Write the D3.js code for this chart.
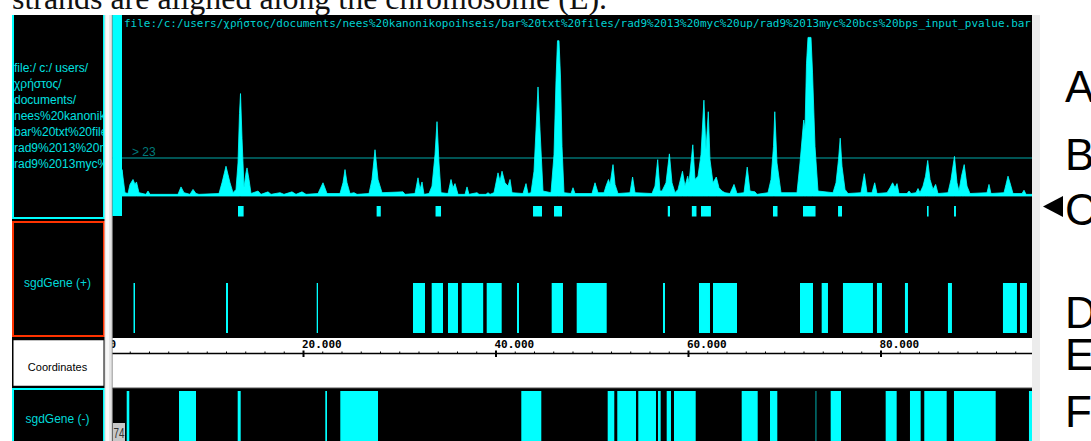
<!DOCTYPE html>
<html><head><meta charset="utf-8">
<script src="https://cdn.jsdelivr.net/npm/d3@7"></script>
<style>html,body{margin:0;padding:0;background:#fff;overflow:hidden}</style>
</head><body>
<svg id="c" width="1091" height="441" xmlns="http://www.w3.org/2000/svg"></svg>
<script>
// ---------- data ----------
const chromLength = 95741;
const caption = "strands are aligned along the chromosome (E).";
const filePath = "file:/c:/users/χρήστος/documents/nees%20kanonikopoihseis/bar%20txt%20files/rad9%2013%20myc%20up/rad9%2013myc%20bcs%20bps_input_pvalue.bar";
const fileLabelLines = ["file:/ c:/ users/","χρήστος/","documents/","nees%20kanonikopoihseis/","bar%20txt%20files/","rad9%2013%20myc%20up/","rad9%2013myc%20bcs%20bps_input_pvalue.bar"];
const trackLabels = ["sgdGene (+)","Coordinates","sgdGene (-)"];
const threshold = 23;
const thresholdLabel = "> 23";
const majorTicks = [0,20000,40000,60000,80000];
const tickLabels = ["0","20.000","40.000","60.000","80.000"];
const minorStep = 2000;
const panelLetters = ["A","B","C","D","E","F"];
const cornerLabel = "74";
const startBlock = [150, 1195];
// signal samples [position (bp), value]
const signalSamples = [
[1195,16],[1506,2],[1818,1.5],[2026,7],[2338,10],[2545,7],[2701,8.5],[2961,2],[3688,1],[3896,3],[4104,1],
[7013,1],[7325,5.5],[7636,2],[8260,1],[8572,4],[8883,1.5],[9194,1],[11273,1.5],[11584,8],[12000,18],[12416,8],
[12728,2],[13039,4],[13247,20],[13403,50],[13507,62],[13663,35],[13871,5],[14079,14],[14183,17],[14391,10],[14599,1.5],
[15325,3],[15637,1],[16364,2.5],[16676,1],[17611,2],[18027,1],[18857,2.5],[19273,1],[19897,2.5],[20312,1],
[21559,1.5],[22078,8],[22494,1.5],[23845,1.5],[24157,8],[24365,16],[24572,8],[24884,1.5],[25300,2],[25611,1],
[26858,1.5],[27170,10],[27482,28],[27793,10],[28209,2],[30390,2.5],[30598,1],[31637,1.5],[31949,11],[32157,4],
[32365,8.5],[32572,1],[33092,1.5],[33404,6],[33715,25],[33923,45],[34131,20],[34339,2],[35066,1.5],[35378,10],
[35586,5],[35793,7.5],[36105,1],[36832,1],[37040,5.5],[37248,1],[38079,2],[38287,1],[39014,1],[39222,2],[39430,1],
[39845,2],[40261,14],[40469,9],[40677,15],[40988,8],[41300,6],[41508,10],[41716,2],[42859,1.5],[43170,7.5],[43378,1.5],
[43690,2],[44001,15],[44209,40],[44417,66],[44625,40],[44936,3],[45768,2],[46079,25],[46287,70],[46442,94],[46598,94],
[46754,72],[46910,30],[47118,2],[47845,1.5],[48053,5],[48261,1.5],[50027,1.5],[50339,8],[50651,2],[51274,2],[51482,6],
[51740,10],[51898,7],[52209,19],[52417,7],[52728,1.5],[53975,2],[54245,11.5],[54494,2],[56260,1.5],[56572,6],[56852,22],
[57091,3],[57299,3],[57714,8],[58068,25.5],[58338,8],[58650,2],[58961,4],[59428,15],[59688,6],[59969,12],[60104,8],
[60499,31],[60727,10],[61039,12],[61351,25],[61652,58],[61870,28],[62109,51],[62286,22],[62597,8],[62940,11.5],
[63221,5],[63533,3],[63845,2],[64364,1.5],[64780,7],[65092,1.5],[65819,2],[66152,17.5],[66442,3],[66961,2.5],[67169,1],
[68312,2],[68624,10],[68883,30],[69018,51],[69247,20],[69663,2],[71325,2],[71637,20],[72021,46],[72156,40],[72312,80],
[72468,96],[72780,96],[72936,75],[73196,30],[73508,3],[75066,2],[75378,8],[75638,22],[75814,35],[76001,18],[76313,4],
[76625,1.5],[77975,2],[78318,13.5],[78599,2],[79118,2],[79399,8],[79638,1.5],[80677,2],[80989,5],[81259,8],[81508,5],
[81716,7.5],[81924,1.5],[82755,1.5],[82963,3],[83171,1.5],[83690,2],[83898,4.5],[84106,2],[84418,6],[84678,12],
[84906,21.5],[85145,10],[85457,4],[85727,7],[85976,1.5],[87015,2],[87327,10],[87687,24],[87947,8],[88155,3],[88415,12],
[88696,19],[88987,6],[89298,1.5],[91065,2],[91273,7],[91481,1.5],[92832,2],[93040,7],[93248,12],[93455,8],[93767,1.5],
[94702,1.5],[94910,3.5],[95118,1],[95741,1]
];
// significant regions (row of squares under the signal)
const sigRegions = [[13247,13830],[27650,28080],[33770,34340],[43900,44830],[46080,46910],[57900,58130],[60400,60880],[61350,62380],[68830,69300],[71950,73250],[75590,76000],[84830,85000],[87640,87840]];
const genesPlus = [[2390,2545],[12000,12208],[21423,21558],[31428,32675],[33371,34545],[35064,36103],[36488,38722],[39085,40643],[42233,42441],[45838,47012],[48436,51553],[57402,57610],[61142,62285],[62597,65091],[71637,72987],[73889,74543],[76100,79217],[79632,80151],[82541,82853],[87009,87424],[92723,94178],[94490,95217]];
const genesMinus = [[1683,1953],[7117,8883],[13215,13527],[22317,22494],[23875,27794],[42680,44758],[51656,52342],[52653,54596],[54835,56674],[56882,57162],[57786,58233],[58546,60800],[65579,67241],[68520,69278],[73260,73330],[74825,75896],[80538,81681],[83063,84174],[84549,86876],[87634,91967],[95426,95741]];

// ---------- drawing ----------
const svg = d3.select("#c");
const CY = "#00ffff";
const x = d3.scaleLinear().domain([0, chromLength]).range([110.5, 1032]);
const y = d3.scaleLinear().domain([0, 100]).range([196, 30.8]);

svg.append("rect").attr("width",1091).attr("height",441).attr("fill","#fff");

// caption (cut off at top)
svg.append("text").attr("x",12).attr("y",8.5)
  .attr("font-family","'Liberation Serif','Times New Roman',serif").attr("font-size",32)
  .attr("textLength",595).attr("lengthAdjust","spacingAndGlyphs").attr("fill","#111").text(caption);

// main black window
svg.append("rect").attr("x",12).attr("y",15).attr("width",1020).attr("height",426).attr("fill","#000");

const defs = svg.append("defs");
defs.append("clipPath").attr("id","lclip").append("rect").attr("x",14).attr("y",15).attr("width",89).attr("height",426);
defs.append("clipPath").attr("id","bclip").append("rect").attr("x",0).attr("y",15).attr("width",112).attr("height",426);
defs.append("clipPath").attr("id","dclip").append("rect").attr("x",112.5).attr("y",15).attr("width",919.5).attr("height",426);

// ---- left label column ----
const left = svg.append("g").attr("clip-path","url(#bclip)");
left.append("rect").attr("x",13).attr("y",5).attr("width",91).attr("height",213).attr("fill","#000").attr("stroke",CY).attr("stroke-width",2);
left.append("rect").attr("x",13).attr("y",222).attr("width",91).attr("height",114).attr("fill","#000").attr("stroke","#ff3300").attr("stroke-width",2);
left.append("rect").attr("x",12.75).attr("y",339.5).attr("width",91.5).attr("height",47).attr("fill","#fff").attr("stroke","#000").attr("stroke-width",1.5);
left.append("rect").attr("x",13).attr("y",389).attr("width",91).attr("height",60).attr("fill","#000").attr("stroke",CY).attr("stroke-width",2);

const lt = left.append("g").attr("clip-path","url(#lclip)");
lt.selectAll("text.fl").data(fileLabelLines).join("text").attr("class","fl")
  .attr("x",14).attr("y",(d,i)=>72+i*16)
  .attr("font-family","'Liberation Sans',Arial,sans-serif").attr("font-size",12)
  .attr("fill","#00e0e0").text(d=>d);

const labelY = [283, 367, 419];
const labelSize = [12, 11, 12];
left.selectAll("text.tl").data(trackLabels).join("text").attr("class","tl")
  .attr("x",57.5).attr("y",(d,i)=>labelY[i]+4).attr("text-anchor","middle")
  .attr("font-family","'Liberation Sans',Arial,sans-serif").attr("font-size",(d,i)=>labelSize[i])
  .attr("fill",(d,i)=>i===1?"#000":"#00d8d8").text(d=>d);

// splitter
svg.append("rect").attr("x",104.5).attr("y",15).attr("width",7.5).attr("height",426).attr("fill","#e6e6e6");
svg.append("rect").attr("x",106).attr("y",15).attr("width",3).attr("height",426).attr("fill","#f8f8f8");
svg.append("line").attr("x1",112.2).attr("x2",112.2).attr("y1",15).attr("y2",441).attr("stroke","#9a9a9a").attr("stroke-width",1);

// ---- data area ----
const data = svg.append("g").attr("clip-path","url(#dclip)");

data.append("text").attr("x",124).attr("y",27)
  .attr("font-family","'DejaVu Sans Mono',monospace").attr("font-size",11)
  .attr("textLength",907).attr("lengthAdjust","spacingAndGlyphs")
  .attr("fill","#00d0d0").text(filePath);

data.append("line").attr("x1",112).attr("x2",1032).attr("y1",y(threshold)).attr("y2",y(threshold))
  .attr("stroke","#007070").attr("stroke-width",1.3);
data.append("text").attr("x",132).attr("y",y(threshold)-2.5)
  .attr("font-family","'Liberation Sans',Arial,sans-serif").attr("font-size",12)
  .attr("fill","#007a7a").text(thresholdLabel);

const area = d3.area().x(d=>x(d[0])).y0(y(0)).y1(d=>y(d[1]));
data.append("path").datum(signalSamples).attr("d",area).attr("fill",CY).attr("stroke",CY).attr("stroke-width",0.8);

data.append("rect").attr("x",x(startBlock[0])).attr("width",x(startBlock[1])-x(startBlock[0]))
  .attr("y",15).attr("height",216-15).attr("fill",CY);

data.selectAll("rect.sr").data(sigRegions).join("rect").attr("class","sr")
  .attr("x",d=>x(d[0])).attr("width",d=>Math.max(1,x(d[1])-x(d[0])))
  .attr("y",206).attr("height",10.5).attr("fill",CY);

data.selectAll("rect.gp").data(genesPlus).join("rect").attr("class","gp")
  .attr("x",d=>x(d[0])).attr("width",d=>x(d[1])-x(d[0]))
  .attr("y",283).attr("height",50).attr("fill",CY);

data.append("rect").attr("x",112).attr("y",338).attr("width",920).attr("height",50).attr("fill","#fff");
data.append("line").attr("x1",112).attr("x2",1032).attr("y1",388).attr("y2",388).attr("stroke","#555").attr("stroke-width",1);

const axG = data.append("g").attr("transform","translate(0,353.5)");
const minorTicks = d3.range(0, chromLength, minorStep).filter(v=>majorTicks.indexOf(v)<0);
axG.append("g").call(d3.axisTop(x).tickValues(minorTicks).tickSize(2).tickSizeOuter(0).tickFormat(""))
  .call(g=>g.select(".domain").attr("stroke","#000").attr("stroke-width",1.6).attr("d","M112,0H1032"))
  .call(g=>g.selectAll(".tick line").attr("stroke","#000").attr("stroke-width",1));
axG.append("g").call(d3.axisBottom(x).tickValues(majorTicks).tickSize(3.5).tickSizeOuter(0).tickFormat(""))
  .call(g=>g.select(".domain").remove())
  .call(g=>g.selectAll(".tick line").attr("y1",-3).attr("stroke","#000").attr("stroke-width",2));
axG.selectAll("text.tk").data(majorTicks).join("text").attr("class","tk")
  .attr("x",d=>x(d)-1).attr("y",-5.2)
  .attr("font-family","'DejaVu Sans Mono',monospace").attr("font-weight","bold").attr("font-size",11)
  .attr("fill","#000").text((d,i)=>tickLabels[i]);

data.selectAll("rect.gm").data(genesMinus).join("rect").attr("class","gm")
  .attr("x",d=>x(d[0])).attr("width",d=>x(d[1])-x(d[0]))
  .attr("y",391).attr("height",55).attr("fill",CY);

// corner label
svg.append("rect").attr("x",113).attr("y",423).attr("width",12).attr("height",18).attr("fill","#c8c8c8");
svg.append("text").attr("x",113.5).attr("y",438)
  .attr("font-family","'Liberation Sans',Arial,sans-serif").attr("font-size",14)
  .attr("textLength",11).attr("lengthAdjust","spacingAndGlyphs").attr("fill","#333").text(cornerLabel);

// right gray strip
svg.append("rect").attr("x",1032).attr("y",15).attr("width",8).attr("height",426).attr("fill","#ececec");

const letterBase = [102, 170, 225, 328, 370, 427];
svg.selectAll("text.pl").data(panelLetters).join("text").attr("class","pl")
  .attr("x",1065).attr("y",(d,i)=>letterBase[i])
  .attr("font-family","'Liberation Sans',Arial,sans-serif").attr("font-size",44)
  .attr("fill","#000").text(d=>d);
const tri = d3.path(); tri.moveTo(1043,206.5); tri.lineTo(1063,196); tri.lineTo(1063,217); tri.closePath();
svg.append("path").attr("d",tri.toString()).attr("fill","#000");
</script>
</body></html>
